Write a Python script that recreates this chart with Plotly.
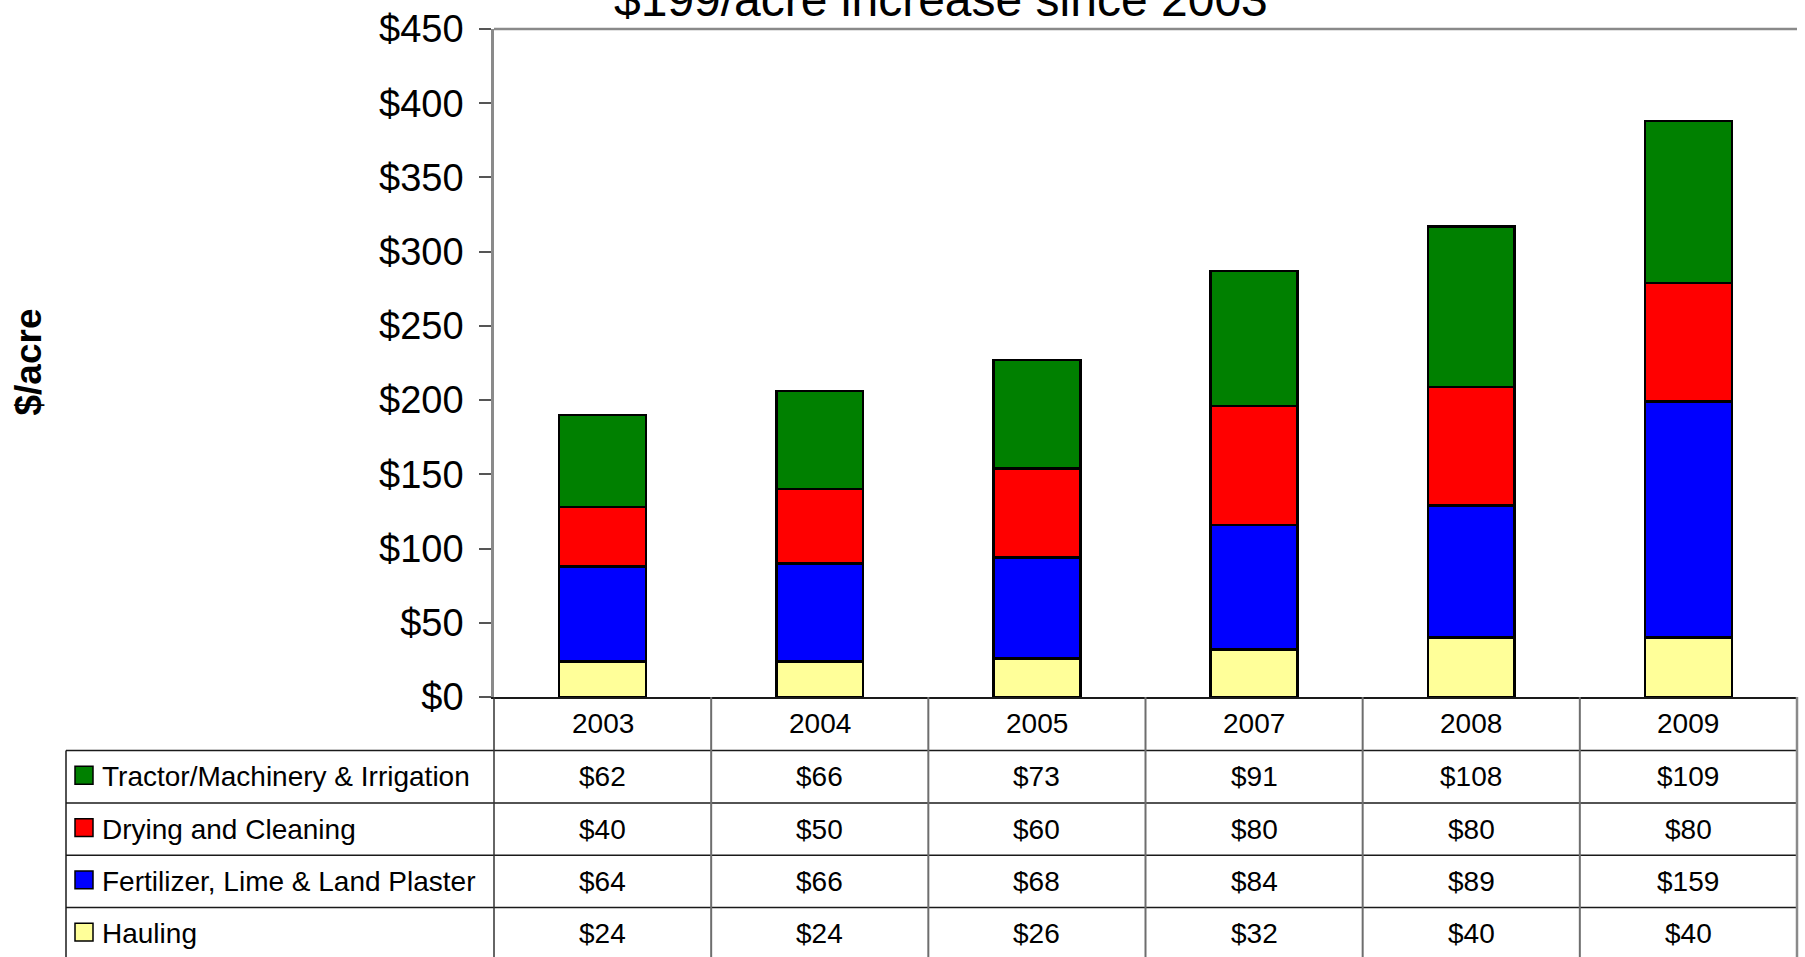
import plotly.graph_objects as go

# ---- data -------------------------------------------------------------
years = ["2003", "2004", "2005", "2007", "2008", "2009"]
hauling = [24, 24, 26, 32, 40, 40]
fertilizer = [64, 66, 68, 84, 89, 159]
drying = [40, 50, 60, 80, 80, 80]
tractor = [62, 66, 73, 91, 108, 109]

series_names = [
    "Hauling",
    "Fertilizer, Lime & Land Plaster",
    "Drying and Cleaning",
    "Tractor/Machinery & Irrigation",
]
series_values = [hauling, fertilizer, drying, tractor]
series_colors = ["#FFFF99", "#0000FF", "#FF0000", "#008000"]

y_ticks = [0, 50, 100, 150, 200, 250, 300, 350, 400, 450]

# ---- page geometry (pixels) -------------------------------------------
W, H = 1805, 957
ML, MR, MT, MB = 494, 8, 24, 260
PW, PH = W - ML - MR, H - MT - MB
BASE = H - MB                   # pixel row of the $0 line
HEADER_H = 54                   # year row height
ROW_H = 52.7                    # data row height
TABLE_LEFT = 66
FONT = "Liberation Sans, Arial, sans-serif"


def py(ypix):
    return (BASE - ypix) / PH


def px(xpix):
    return (xpix - ML) / PW


fig = go.Figure()
for name, vals, col in zip(series_names, series_values, series_colors):
    fig.add_trace(go.Bar(
        x=years, y=vals, name=name, width=0.4,
        marker=dict(color=col, line=dict(color="black", width=2.5)),
        showlegend=False,
    ))

shapes = []
annotations = []

# plot-area frame (top edge)
shapes.append(dict(type="line", xref="paper", yref="paper", x0=0, x1=1, y0=1, y1=1,
                   line=dict(color="#8a8a8a", width=2.5)))

# table: horizontal rules
row_lines = [BASE + HEADER_H + ROW_H * k for k in range(5)]
for yl in row_lines:
    shapes.append(dict(type="line", xref="paper", yref="paper",
                       x0=px(TABLE_LEFT), x1=1, y0=py(yl), y1=py(yl),
                       line=dict(color="#1a1a1a", width=1.5)))
# table: left border of the label column
shapes.append(dict(type="line", xref="paper", yref="paper",
                   x0=px(TABLE_LEFT), x1=px(TABLE_LEFT), y0=py(row_lines[0]), y1=py(H + 2),
                   line=dict(color="#1a1a1a", width=1.5)))
# table: axis line continued downward
shapes.append(dict(type="line", xref="paper", yref="paper",
                   x0=0, x1=0, y0=0, y1=py(H + 2),
                   line=dict(color="#333333", width=1.5)))
# table: column separators at category boundaries
for i in range(len(years) - 1):
    shapes.append(dict(type="line", xref="x", yref="paper",
                       x0=i + 0.5, x1=i + 0.5, y0=0, y1=py(H + 2),
                       line=dict(color="#6e6e6e", width=2)))
# table: right border
shapes.append(dict(type="line", xref="paper", yref="paper",
                   x0=1, x1=1, y0=0, y1=py(H + 2),
                   line=dict(color="#8a8a8a", width=2.5)))

# year header (x given as category serial numbers)
for i, yr in enumerate(years):
    annotations.append(dict(x=i, xref="x", y=py(BASE + HEADER_H / 2), yref="paper",
                            text=yr, showarrow=False, xanchor="center", yanchor="middle",
                            font=dict(size=28, color="black", family=FONT)))

# data rows, top row is the top stack segment
for r, k in enumerate(reversed(range(len(series_names)))):
    yc = py(BASE + HEADER_H + ROW_H * (r + 0.5))
    for i, v in enumerate(series_values[k]):
        annotations.append(dict(x=i, xref="x", y=yc, yref="paper",
                                text=f"${v}", showarrow=False,
                                xanchor="center", yanchor="middle",
                                font=dict(size=28, color="black", family=FONT)))
    # legend key swatch
    sw = 18
    shapes.append(dict(type="rect", xref="paper", yref="paper",
                       x0=px(75), x1=px(75 + sw),
                       y0=yc - (sw / 2) / PH + 1.5 / PH, y1=yc + (sw / 2) / PH + 1.5 / PH,
                       fillcolor=series_colors[k], line=dict(color="black", width=1.5)))
    annotations.append(dict(x=px(100), xref="paper", y=yc, yref="paper",
                            text=series_names[k], showarrow=False,
                            xanchor="left", yanchor="middle",
                            font=dict(size=28, color="black", family=FONT)))

# y-axis title
annotations.append(dict(x=px(29), xref="paper", y=py(360), yref="paper",
                        text="<b>$/acre</b>", textangle=-90, showarrow=False,
                        xanchor="center", yanchor="middle",
                        font=dict(size=37, color="black", family=FONT)))

# chart title (sits above the plot frame)
annotations.append(dict(x=px(941), xref="paper", y=1, yref="paper",
                        text="$199/acre increase since 2003", showarrow=False,
                        xanchor="center", yanchor="bottom", yshift=1,
                        font=dict(size=48, color="black", family=FONT)))

fig.update_layout(
    width=W, height=H,
    margin=dict(l=ML, r=MR, t=MT, b=MB),
    paper_bgcolor="white", plot_bgcolor="white",
    barmode="stack", bargap=0.6,
    font=dict(family=FONT, color="black"),
    xaxis=dict(
        type="category", range=[-0.5, len(years) - 0.5],
        showticklabels=False, ticks="", showgrid=False, zeroline=False,
        showline=True, linecolor="#1a1a1a", linewidth=2,
    ),
    yaxis=dict(
        range=[0, 450], tickvals=y_ticks, ticktext=[f"${t}" for t in y_ticks],
        ticks="outside", ticklen=12, tickwidth=1.5, tickcolor="#555555",
        ticklabelstandoff=8,
        tickfont=dict(size=38, color="black", family=FONT),
        showgrid=False, zeroline=False,
        showline=True, linecolor="#8a8a8a", linewidth=2.5,
    ),
    shapes=shapes,
    annotations=annotations,
)

fig.write_html("out.html")
